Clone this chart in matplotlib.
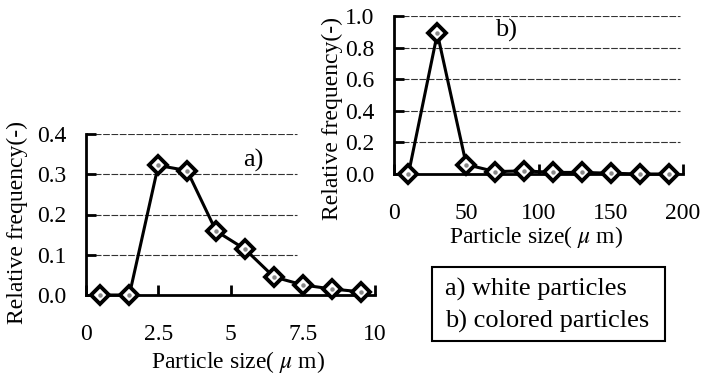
import matplotlib
matplotlib.use("Agg")
import matplotlib.pyplot as plt
from matplotlib.patches import Rectangle

plt.rcParams['font.family'] = ['Liberation Serif', 'DejaVu Serif']
plt.rcParams['mathtext.fontset'] = 'stix'

# Panel a: white particles
size_a = [0.5, 1.5, 2.5, 3.5, 4.5, 5.5, 6.5, 7.5, 8.5, 9.5]
freq_a = [0.0, 0.0, 0.322, 0.309, 0.159, 0.114, 0.045, 0.025, 0.015, 0.008]
xticks_a = [0, 2.5, 5, 7.5, 10]
xticklabels_a = ['0', '2.5', '5', '7.5', '10']
yticks_a = [0.0, 0.1, 0.2, 0.3, 0.4]

# Panel b: colored particles
size_b = [10, 30, 50, 70, 90, 110, 130, 150, 170, 190]
freq_b = [0.0, 0.89, 0.06, 0.015, 0.02, 0.01, 0.01, 0.005, 0.0, 0.0]
xticks_b = [0, 50, 100, 150, 200]
yticks_b = [0.0, 0.2, 0.4, 0.6, 0.8, 1.0]

xlabel = 'Particle size( $\\mu$ m)'
ylabel = 'Relative frequency(-)'
legend_lines = ['a) white particles', 'b) colored particles']

W, H = 702, 383
fig = plt.figure(figsize=(W / 100, H / 100), dpi=100)
FS = 17
FS_LEG = 19


def fx(px):
    return px / W


def fy(py):
    return 1 - py / H


def style(ax, xt, xtl, yt, yfmt, grid_frac):
    for s in ['top', 'right']:
        ax.spines[s].set_visible(False)
    for s in ['left', 'bottom']:
        ax.spines[s].set_linewidth(2.0)
    ax.set_xticks(xt)
    ax.set_xticklabels(xtl)
    ax.set_yticks(yt)
    ax.set_yticklabels([yfmt.format(v) for v in yt])
    ax.tick_params(axis='both', direction='in', length=7, width=2.0,
                   labelsize=FS)
    ax.tick_params(axis='x', pad=21)
    ax.tick_params(axis='y', pad=14)
    for v in yt[1:]:
        ax.axhline(v, xmin=0, xmax=grid_frac, color='#333333', lw=0.8,
                   ls=(0, (6, 1.5)), zorder=1)


def series(ax, x, y):
    ax.plot(x, y, color='black', lw=2.2, marker='D', markersize=9,
            mfc='white', mec='black', mew=2.8, zorder=3, clip_on=False)
    ax.plot(x, y, ls='none', marker='o', markersize=2.2, color='#888888',
            zorder=4, clip_on=False)


# Panel a
axa = fig.add_axes([fx(86), fy(295), fx(375) - fx(86), fy(134) - fy(295)])
axa.set_xlim(0, 10)
axa.set_ylim(0, 0.4)
style(axa, xticks_a, xticklabels_a, yticks_a, '{:.1f}', (297 - 86) / (375 - 86))
series(axa, size_a, freq_a)

# Panel b
axb = fig.add_axes([fx(394), fy(174), fx(683) - fx(394), fy(16) - fy(174)])
axb.set_xlim(0, 200)
axb.set_ylim(0, 1.0)
style(axb, xticks_b, [str(v) for v in xticks_b], yticks_b, '{:.1f}', 0.99)
series(axb, size_b, freq_b)

# labels placed in figure coordinates
fig.text(fx(17), fy(223), ylabel, rotation=90, fontsize=FS, ha='center', va='center')
fig.text(fx(332), fy(118), ylabel, rotation=90, fontsize=FS, ha='center', va='center')
fig.text(fx(238), fy(362), xlabel, fontsize=FS, ha='center', va='center')
fig.text(fx(536), fy(237), xlabel, fontsize=FS, ha='center', va='center')
fig.text(fx(253), fy(160), 'a)', fontsize=FS_LEG, ha='center', va='center')
fig.text(fx(506), fy(30), 'b)', fontsize=FS_LEG, ha='center', va='center')

# legend box
fig.patches.append(Rectangle((fx(432), fy(341)), fx(665) - fx(432), fy(267) - fy(341),
                             transform=fig.transFigure, fill=False, ec='black', lw=1.5))
fig.text(fx(445), fy(289), legend_lines[0], fontsize=FS_LEG, ha='left', va='center')
fig.text(fx(445), fy(321), legend_lines[1], fontsize=FS_LEG, ha='left', va='center')

fig.savefig('out.png', dpi=100)
